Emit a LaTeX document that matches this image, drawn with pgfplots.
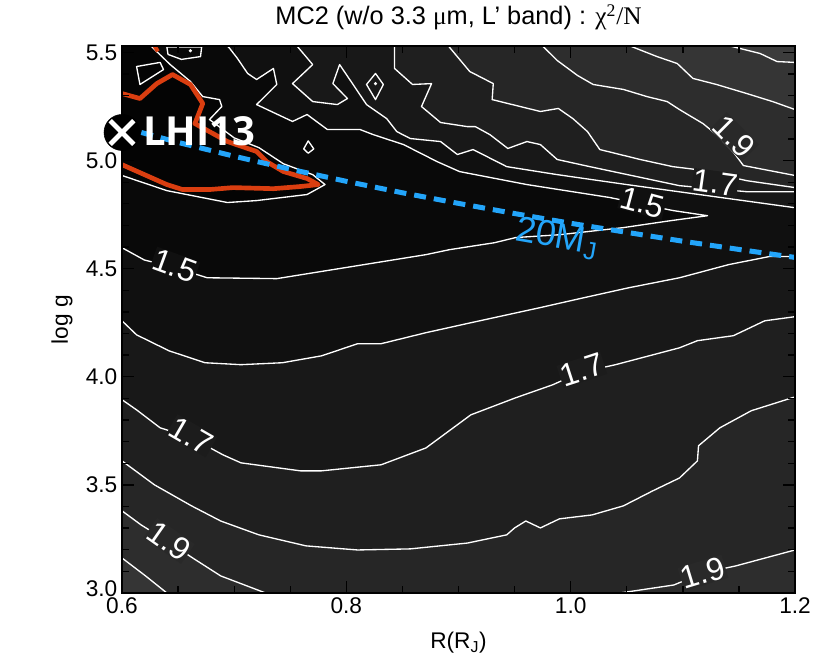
\documentclass[border=0pt]{standalone}
\usepackage{fontspec}
\setmainfont{Liberation Sans}
\newfontfamily\tms{Liberation Serif}
\newfontfamily\osans{Open Sans}
\usepackage{pgfplots}
\pgfplotsset{compat=1.18}

\definecolor{g21}{HTML}{3C3C3C}
\definecolor{g20}{HTML}{353535}
\definecolor{g19}{HTML}{2D2D2D}
\definecolor{g18}{HTML}{262626}
\definecolor{g17}{HTML}{1F1F1F}
\definecolor{g16}{HTML}{181818}
\definecolor{g15}{HTML}{101010}
\definecolor{g14}{HTML}{090909}
\definecolor{g13}{HTML}{040404}
\definecolor{redc}{RGB}{218,62,16}
\definecolor{mjblue}{RGB}{35,165,250}

\pgfplotsset{cline/.style={draw=white, line width=1pt, line join=round}}
\tikzset{clab/.style={text=white, font=\fontsize{24}{24}\selectfont, inner sep=0.5pt}}

\begin{document}
\begin{tikzpicture}
\begin{axis}[
    axis on top,
    scale only axis,
    width=504.75pt, height=410.25pt,
    xmin=0.6, xmax=1.2, ymin=3.0, ymax=5.53,
    xtick={0.6,0.8,1.0,1.2},
    ytick={3.0,3.5,4.0,4.5,5.0,5.5},
    yticklabels={\raisebox{6pt}{3.0},3.5,4.0,4.5,5.0,5.5},
    minor x tick num=3, minor y tick num=4,
    tick align=inside,
    major tick length=9pt, minor tick length=5pt,
    every tick/.style={black, line width=1pt},
    axis line style={black, line width=1.2pt},
    /pgf/number format/assume math mode=true,
    xticklabel style={/pgf/number format/.cd, fixed, fixed zerofill, precision=1},
    tick label style={font=\fontsize{17}{17}\selectfont},
    title={MC2 (w/o 3.3 {\tms μ}m, L’ band) : {\tms χ\textsuperscript{2}/N}},
    title style={at={(rel axis cs:0.5,1.038)}, anchor=center, font=\fontsize{19}{19}\selectfont},
    xlabel={R(R\textsubscript{J})},
    xlabel style={at={(rel axis cs:0.5,-0.0914)}, anchor=center, font=\fontsize{17}{17}\selectfont},
    ylabel={log g},
    ylabel style={at={(rel axis cs:-0.0892,0.5)}, anchor=center, font=\fontsize{17}{17}\selectfont},
    clip=false,
    axis background/.style={fill=g21},
]
% filled bands, outermost first
\addplot[fill=g20, draw=none] coordinates {(0.6,3.0) (0.6,5.53) (1.142,5.53) (1.169,5.495) (1.184,5.458) (1.2,5.454) (1.2,3.0)} --cycle;
\addplot[fill=g19, draw=none] coordinates {(0.6,3.162) (0.6,5.53) (1.053,5.53) (1.077,5.481) (1.095,5.449) (1.109,5.380) (1.130,5.352) (1.157,5.310) (1.180,5.273) (1.2,5.236) (1.2,3.0) (0.640,3.0) (0.621,3.079)} --cycle;
\addplot[fill=g18, draw=none] coordinates {(0.6,3.380) (0.6,5.53) (0.975,5.53) (0.988,5.463) (1.006,5.394) (1.020,5.352) (1.047,5.329) (1.068,5.296) (1.086,5.273) (1.097,5.236) (1.118,5.171) (1.130,5.120) (1.145,5.040) (1.154,4.977) (1.2,4.931) (1.2,3.199) (1.147,3.125) (1.118,3.093) (1.092,3.037) (1.044,3.0) (0.728,3.0) (0.688,3.079) (0.663,3.162) (0.640,3.241) (0.617,3.315)} --cycle;
\addplot[fill=g17, draw=none] coordinates {(0.6,3.611) (0.6,5.53) (0.891,5.53) (0.910,5.412) (0.931,5.356) (0.930,5.282) (0.973,5.227) (0.989,5.241) (1.002,5.194) (1.015,5.134) (1.026,5.051) (1.062,5.005) (1.091,4.972) (1.113,4.958) (1.157,4.907) (1.2,4.875) (1.2,3.907) (1.161,3.843) (1.133,3.764) (1.114,3.681) (1.113,3.611) (1.097,3.532) (1.073,3.472) (1.047,3.403) (1.019,3.361) (0.990,3.343) (0.973,3.301) (0.960,3.333) (0.950,3.301) (0.943,3.269) (0.908,3.231) (0.857,3.204) (0.810,3.199) (0.764,3.218) (0.722,3.269) (0.688,3.333) (0.662,3.403) (0.629,3.500)} --cycle;
\addplot[fill=g16, draw=none] coordinates {(0.6,3.894) (0.6,5.53) (0.843,5.53) (0.843,5.426) (0.859,5.352) (0.876,5.356) (0.867,5.250) (0.884,5.176) (0.908,5.157) (0.915,5.157) (0.928,5.120) (0.944,5.056) (0.961,5.088) (0.973,5.074) (0.988,5.005) (1.017,4.972) (1.097,4.884) (1.157,4.856) (1.2,4.856) (1.2,4.278) (1.173,4.259) (1.145,4.190) (1.113,4.167) (1.097,4.134) (1.040,4.056) (1.008,4.019) (0.984,3.963) (0.951,3.903) (0.911,3.824) (0.871,3.671) (0.831,3.593) (0.778,3.565) (0.759,3.565) (0.706,3.602) (0.690,3.639) (0.662,3.718) (0.634,3.764) (0.613,3.847)} --cycle;
\addplot[fill=g15, draw=none] coordinates {(0.6,4.259) (0.6,5.53) (0.756,5.53) (0.770,5.444) (0.752,5.356) (0.770,5.273) (0.792,5.259) (0.801,5.287) (0.788,5.356) (0.794,5.444) (0.806,5.352) (0.818,5.259) (0.836,5.194) (0.845,5.134) (0.857,5.102) (0.884,5.088) (0.899,5.028) (0.913,5.051) (0.943,4.972) (0.988,4.935) (1.050,4.889) (1.2,4.782) (1.2,4.556) (1.177,4.556) (1.141,4.519) (1.097,4.458) (1.052,4.412) (1.012,4.366) (0.972,4.319) (0.911,4.250) (0.871,4.204) (0.831,4.153) (0.810,4.153) (0.778,4.097) (0.743,4.065) (0.706,4.056) (0.674,4.065) (0.642,4.120) (0.613,4.194)} --cycle;
\addplot[fill=g14, draw=none] coordinates {(0.6,4.597) (0.620,4.540) (0.647,4.505) (0.676,4.458) (0.738,4.454) (0.810,4.514) (0.871,4.565) (0.892,4.588) (0.932,4.620) (0.951,4.644) (0.990,4.657) (1.047,4.690) (1.089,4.722) (1.122,4.745) (1.091,4.769) (1.035,4.829) (0.961,4.889) (0.901,4.949) (0.881,4.995) (0.851,5.074) (0.824,5.120) (0.812,5.144) (0.783,5.144) (0.765,5.213) (0.752,5.181) (0.720,5.259) (0.738,5.352) (0.735,5.426) (0.720,5.375) (0.712,5.403) (0.703,5.472) (0.696,5.519) (0.694,5.53) (0.6,5.53)} --cycle;
\addplot[fill=g13, draw=none] coordinates {(0.6,4.931) (0.640,4.861) (0.694,4.806) (0.720,4.815) (0.765,4.843) (0.781,4.889) (0.770,4.935) (0.744,4.985) (0.722,5.060) (0.700,5.105) (0.678,5.190) (0.689,5.250) (0.687,5.282) (0.672,5.296) (0.661,5.366) (0.643,5.444) (0.628,5.519) (0.626,5.53) (0.6,5.53)} --cycle;

% contour lines
\addplot[cline] coordinates {(0.6,4.597) (0.620,4.540) (0.647,4.505) (0.676,4.458) (0.738,4.454) (0.810,4.514) (0.871,4.565) (0.892,4.588) (0.932,4.620) (0.951,4.644) (0.990,4.657) (1.047,4.690) (1.089,4.722) (1.122,4.745) (1.091,4.769) (1.035,4.829) (0.961,4.889) (0.901,4.949) (0.881,4.995) (0.851,5.074) (0.824,5.120) (0.812,5.144) (0.783,5.144) (0.765,5.213) (0.752,5.181) (0.720,5.259) (0.738,5.352) (0.735,5.426) (0.720,5.375) (0.712,5.403) (0.703,5.472) (0.696,5.519) (0.694,5.53)};
\addplot[cline] coordinates {(0.6,4.931) (0.640,4.861) (0.694,4.806) (0.720,4.815) (0.765,4.843) (0.781,4.889) (0.770,4.935) (0.744,4.985) (0.722,5.060) (0.700,5.105) (0.678,5.190) (0.689,5.250) (0.687,5.282) (0.672,5.296) (0.661,5.366) (0.643,5.444) (0.628,5.519) (0.626,5.53)};
\addplot[cline] coordinates {(0.756,5.53) (0.770,5.444) (0.752,5.356) (0.770,5.273) (0.792,5.259) (0.801,5.287) (0.788,5.356) (0.794,5.444) (0.806,5.352) (0.818,5.259) (0.836,5.194) (0.845,5.134) (0.857,5.102) (0.884,5.088) (0.899,5.028) (0.913,5.051) (0.943,4.972) (0.988,4.935) (1.050,4.889) (1.2,4.782)};
\addplot[cline] coordinates {(0.6,4.259) (0.613,4.194) (0.642,4.120) (0.674,4.065) (0.706,4.056) (0.743,4.065) (0.778,4.097) (0.810,4.153) (0.831,4.153) (0.871,4.204) (0.911,4.250) (0.972,4.319) (1.012,4.366) (1.052,4.412) (1.097,4.458) (1.141,4.519) (1.177,4.556) (1.2,4.556)};
\addplot[cline] coordinates {(0.843,5.53) (0.843,5.426) (0.859,5.352) (0.876,5.356) (0.867,5.250) (0.884,5.176) (0.908,5.157) (0.915,5.157) (0.928,5.120) (0.944,5.056) (0.961,5.088) (0.973,5.074) (0.988,5.005) (1.017,4.972) (1.097,4.884) (1.157,4.856) (1.2,4.856)};
\addplot[cline] coordinates {(0.6,3.894) (0.613,3.847) (0.634,3.764) (0.662,3.718) (0.690,3.639) (0.706,3.602) (0.759,3.565) (0.778,3.565) (0.831,3.593) (0.871,3.671) (0.911,3.824) (0.951,3.903) (0.984,3.963) (1.008,4.019) (1.040,4.056) (1.097,4.134) (1.113,4.167) (1.145,4.190) (1.173,4.259) (1.2,4.278)};
\addplot[cline] coordinates {(0.891,5.53) (0.910,5.412) (0.931,5.356) (0.930,5.282) (0.973,5.227) (0.989,5.241) (1.002,5.194) (1.015,5.134) (1.026,5.051) (1.062,5.005) (1.091,4.972) (1.113,4.958) (1.157,4.907) (1.2,4.875)};
\addplot[cline] coordinates {(0.6,3.611) (0.629,3.500) (0.662,3.403) (0.688,3.333) (0.722,3.269) (0.764,3.218) (0.810,3.199) (0.857,3.204) (0.908,3.231) (0.943,3.269) (0.950,3.301) (0.960,3.333) (0.973,3.301) (0.990,3.343) (1.019,3.361) (1.047,3.403) (1.073,3.472) (1.097,3.532) (1.113,3.611) (1.114,3.681) (1.133,3.764) (1.161,3.843) (1.2,3.907)};
\addplot[cline] coordinates {(0.975,5.53) (0.988,5.463) (1.006,5.394) (1.020,5.352) (1.047,5.329) (1.068,5.296) (1.086,5.273) (1.097,5.236) (1.118,5.171) (1.130,5.120) (1.145,5.040) (1.154,4.977) (1.2,4.931)};
\addplot[cline] coordinates {(0.6,3.380) (0.617,3.315) (0.640,3.241) (0.663,3.162) (0.688,3.079) (0.728,3.0)};
\addplot[cline] coordinates {(1.044,3.0) (1.092,3.037) (1.118,3.093) (1.147,3.125) (1.2,3.199)};
\addplot[cline] coordinates {(1.053,5.53) (1.077,5.481) (1.095,5.449) (1.109,5.380) (1.130,5.352) (1.157,5.310) (1.180,5.273) (1.2,5.236)};
\addplot[cline] coordinates {(0.6,3.162) (0.621,3.079) (0.640,3.0)};
\addplot[cline] coordinates {(1.142,5.53) (1.169,5.495) (1.184,5.458) (1.2,5.454)};
% small closed loops and local extrema
\addplot[cline] coordinates {(0.613,5.435) (0.634,5.454) (0.637,5.421) (0.616,5.352)} --cycle;
\addplot[cline] coordinates {(0.640,5.525) (0.671,5.525) (0.670,5.481) (0.653,5.468) (0.641,5.491)} --cycle;
\addplot[cline] coordinates {(0.826,5.403) (0.833,5.352) (0.826,5.282) (0.818,5.352)} --cycle;
\addplot[cline] coordinates {(0.766,5.091) (0.771,5.054) (0.766,5.034) (0.762,5.054)} --cycle;
\addplot[only marks, mark=*, mark size=1pt, white] coordinates {(0.661,5.508) (0.826,5.356)};

% contour labels
\node[clab, fill=g15, rotate=-20] at (axis cs:0.647,4.514) {1.5};
\node[clab, fill=g15, rotate=-15] at (axis cs:1.064,4.806) {1.5};
\node[clab, fill=g16!50!g17, rotate=-30] at (axis cs:0.662,3.727) {1.7};
\node[clab, fill=g16!50!g17, rotate=18] at (axis cs:1.010,4.032) {1.7};
\node[clab, fill=g16!50!g17, rotate=-8] at (axis cs:1.129,4.898) {1.7};
\node[clab, fill=g18!50!g19, rotate=-45] at (axis cs:1.146,5.110) {1.9};
\node[clab, fill=g18!50!g19, rotate=-35] at (axis cs:0.642,3.241) {1.9};
\node[clab, fill=g18!50!g19, rotate=17] at (axis cs:1.118,3.093) {1.9};

% best-fit region
\addplot[draw=redc, line width=3.5pt, line join=round] coordinates {(0.600,5.310) (0.616,5.287) (0.631,5.356) (0.645,5.398) (0.661,5.352) (0.672,5.264) (0.665,5.171) (0.694,5.088) (0.720,5.042) (0.729,4.995) (0.744,4.949) (0.765,4.917) (0.775,4.889) (0.759,4.880) (0.735,4.870) (0.699,4.875) (0.678,4.866) (0.654,4.866) (0.640,4.889) (0.600,4.981)};
\addplot[draw=redc, line width=3pt] coordinates {(0.629,5.53) (0.632,5.505)};

% 20 M_J iso-mass line
\addplot[draw=mjblue, line width=3.75pt, dash pattern=on 9pt off 6pt] coordinates {(0.6,5.154) (0.65,5.084) (0.7,5.020) (0.75,4.960) (0.8,4.904) (0.85,4.851) (0.9,4.802) (0.95,4.755) (1.0,4.710) (1.05,4.668) (1.1,4.627) (1.15,4.589) (1.2,4.552)};
\node[text=mjblue, rotate=-10, font=\fontsize{27}{27}\selectfont, inner sep=0pt] at (axis cs:0.988,4.642) {20M\textsubscript{J}};

% LHI13 marker
\addplot[only marks, mark=*, mark size=13.5pt, mark options={fill=black, draw=black}] coordinates {(0.6,5.130)};
\addplot[only marks, mark=x, mark size=12.5pt, mark options={white, line width=3.5pt}] coordinates {(0.6,5.130)};
\node[text=white, anchor=west, inner sep=0pt, font=\osans\bfseries\fontsize{30}{30}\selectfont] at (axis cs:0.6187,5.134) {LHI13};
\end{axis}
\path (-91.5pt,-59.25pt) rectangle (531pt,438.75pt);
\end{tikzpicture}
\end{document}
